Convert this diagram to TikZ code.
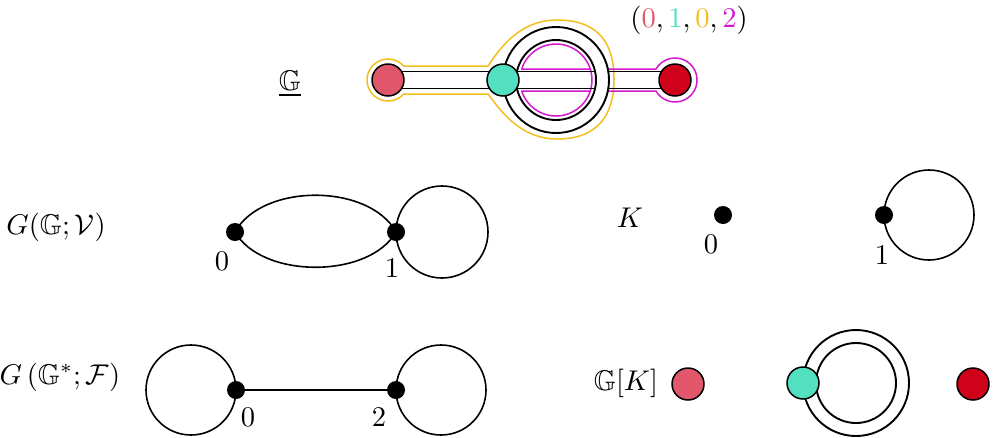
\documentclass[tikz,border=0pt]{standalone}
\usepackage{amssymb}
\definecolor{pinkc}{RGB}{224,87,107}
\definecolor{tealc}{RGB}{82,224,192}
\definecolor{darkredc}{RGB}{208,2,27}
\definecolor{yellowc}{RGB}{243,190,30}
\definecolor{magc}{RGB}{210,25,205}
\tikzset{
  lbl/.style={inner sep=0pt, scale=2.85},
  vtx/.style={circle, draw=black, line width=1.5pt, minimum size=32pt, inner sep=0pt},
  dot/.style={circle, fill=black, minimum size=18pt, inner sep=0pt},
  edge/.style={line width=1.6pt, black},
  band/.style={line width=1.9pt, black},
  ring/.style={line width=1.9pt, black},
  yb/.style={line width=1.5pt, yellowc, line join=round},
  mb/.style={line width=1.5pt, magc, line join=round},
}
\begin{document}
\begin{tikzpicture}[x=1pt,y=-1pt]
\useasboundingbox (0,0) rectangle (995,437);

% ---------- top ribbon graph ----------
\coordinate (rc) at (556,80);
% yellow boundary
\draw[yb] (488,94) -- (403.65,94) arc[start angle=41.8, end angle=318.2, radius=21] -- (488,66)
  .. controls (500,48) and (520,20) .. (557,20)
  .. controls (600,20) and (614,45) .. (614,79)
  .. controls (614,115) and (598,139) .. (557,139)
  .. controls (520,139) and (500,110) .. (488,94) -- cycle;
% magenta boundary
\draw[mb] (608,69) -- (656,69) arc[start angle=-150, end angle=150, radius=22] -- (608,91);
\draw[mb] (590.3,69) -- (521.7,69) arc[start angle=-162.2, end angle=162.2, radius=36] -- (590.3,91);
% ring
\draw[ring] (rc) circle[radius=53];
\draw[ring] (rc) circle[radius=40];
% bands
\draw[band] (388,71.5) -- (503,71.5);
\draw[band] (388,88.5) -- (503,88.5);
\draw[band] (503,71.5) -- (595.1,71.5);
\draw[band] (503,88.5) -- (595.1,88.5);
\draw[band] (608.3,71.5) -- (675,71.5);
\draw[band] (608.3,88.5) -- (675,88.5);
% vertices
\node[vtx, fill=pinkc] (t1) at (388,80) {};
\node[vtx, fill=tealc] (t2) at (503,80) {};
\node[vtx, fill=darkredc] (t3) at (675,80) {};
\node[lbl] (tuple) at (689,20) {$(\textcolor{pinkc}{0},\textcolor{tealc}{1},\textcolor{yellowc}{0},\textcolor{magc}{2})$};
\node[lbl] (gg) at (290,84) {$\underline{\mathbb{G}}$};

% ---------- G(G;V) ----------
\node[lbl] (lv) at (56,227) {$G(\mathbb{G};\mathcal{V})$};
\node[dot] (a0) at (235,232) {};
\node[dot] (a1) at (396,232) {};
\draw[edge] (a0.center) .. controls (262,183) and (369,183) .. (a1.center);
\draw[edge] (a0.center) .. controls (262,279) and (369,279) .. (a1.center);
\draw[edge] (a1.center) arc[start angle=180, end angle=-180, radius=46];
\node[lbl] (a0l) at (222,261) {$0$};
\node[lbl] (a1l) at (392,268) {$1$};

% ---------- K ----------
\node[lbl] (lk) at (630,218) {$K$};
\node[dot] (k0) at (723,215) {};
\node[dot] (k1) at (884,215) {};
\draw[edge] (k1.center) arc[start angle=180, end angle=-180, radius=45];
\node[lbl] (k0l) at (711,244) {$0$};
\node[lbl] (k1l) at (882,255) {$1$};

% ---------- G(G*;F) ----------
\node[lbl] (lf) at (60,377) {$G\left(\mathbb{G}^*;\mathcal{F}\right)$};
\node[dot] (f0) at (236,390) {};
\node[dot] (f2) at (396,390) {};
\draw[edge] (f0) -- (f2);
\draw[edge] (f0.center) arc[start angle=0, end angle=360, radius=45];
\draw[edge] (f2.center) arc[start angle=180, end angle=-180, radius=45];
\node[lbl] (f0l) at (248,417) {$0$};
\node[lbl] (f2l) at (379,417) {$2$};

% ---------- G[K] ----------
\node[lbl] (lgk) at (626,383) {$\mathbb{G}[K]$};
\coordinate (rc2) at (856,383);
\draw[ring] (rc2) circle[radius=53];
\draw[ring] (rc2) circle[radius=40];
\node[vtx, fill=pinkc] (g1) at (688,384) {};
\node[vtx, fill=tealc] (g2) at (803,383) {};
\node[vtx, fill=darkredc] (g3) at (973,384) {};
\end{tikzpicture}
\end{document}
